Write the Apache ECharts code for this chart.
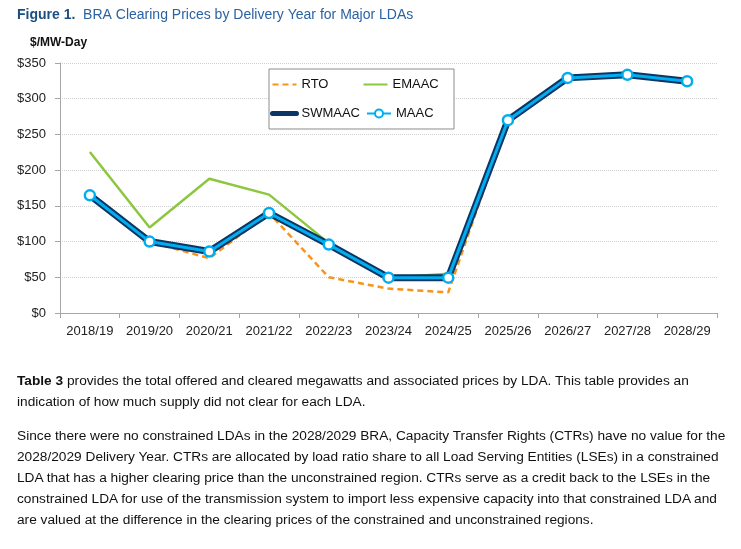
<!DOCTYPE html>
<html><head><meta charset="utf-8">
<script src="https://cdn.jsdelivr.net/npm/echarts@6/dist/echarts.min.js"></script>
<style>
html,body{margin:0;padding:0;background:#fff;}
#c{position:absolute;left:0;top:0;width:741px;height:549px;}
.p{position:absolute;left:17px;font-family:"Liberation Sans",Arial,sans-serif;font-size:13.7px;color:#111;line-height:21px;white-space:nowrap;}
</style></head>
<body>
<div id="c"></div>
<div class="p" style="top:370px;"><b>Table 3</b> provides the total offered and cleared megawatts and associated prices by LDA. This table provides an<br>indication of how much supply did not clear for each LDA.</div>
<div class="p" style="top:425px;">Since there were no constrained LDAs in the 2028/2029 BRA, Capacity Transfer Rights (CTRs) have no value for the<br>2028/2029 Delivery Year. CTRs are allocated by load ratio share to all Load Serving Entities (LSEs) in a constrained<br>LDA that has a higher clearing price than the unconstrained region. CTRs serve as a credit back to the LSEs in the<br>constrained LDA for use of the transmission system to import less expensive capacity into that constrained LDA and<br>are valued at the difference in the clearing prices of the constrained and unconstrained regions.</div>
<script>
const categories = ['2018/19','2019/20','2020/21','2021/22','2022/23','2023/24','2024/25','2025/26','2026/27','2027/28','2028/29'];
const rto    = [164.77, 100.00, 76.53, 140.00, 50.00, 34.13, 28.92, 269.92, 329.17, 333.44, 324.5];
const emaac  = [225.42, 119.77, 187.87, 165.73, 97.86, 49.49, 54.95, 269.92, 329.17, 333.44, 324.5];
const swmaac = [164.77, 100.00, 86.04, 140.00, 95.79, 49.49, 49.49, 269.92, 329.17, 333.44, 324.5];
const maac   = [164.77, 100.00, 86.04, 140.00, 95.79, 49.49, 49.49, 269.92, 329.17, 333.44, 324.5];
const seriesNames = ['RTO','EMAAC','SWMAAC','MAAC'];

const font = '"Liberation Sans", Arial, sans-serif';
const chart = echarts.init(document.getElementById('c'));
chart.setOption({
  animation:false,
  backgroundColor:'#fff',
  graphic:[
    {type:'text', left:17, top:8, style:{text:'{b|Figure 1.}  {n|BRA Clearing Prices by Delivery Year for Major LDAs}', font:'14px '+font,
      rich:{b:{fontWeight:'bold', fontSize:14, fontFamily:font, fill:'#1B4F82'}, n:{fontSize:14, fontFamily:font, fill:'#2B62A3'}}}},
    {type:'text', left:30, top:37, style:{text:'$/MW-Day', font:'bold 12px '+font, fill:'#111'}}
  ],
  grid:{left:60, right:24, top:63, bottom:236, containLabel:false},
  legend:{
    left:269, top:69, width:186, orient:'horizontal',
    padding:[4,3,4,1], itemGap:6, itemWidth:24, itemHeight:10,
    borderColor:'#8c8c8c', borderWidth:1, backgroundColor:'#fff',
    textStyle:{fontFamily:font, fontSize:13, color:'#111', width:55, lineHeight:23, height:23},
    data:[
      {name:'RTO', itemStyle:{opacity:0}},
      {name:'EMAAC', itemStyle:{opacity:0}},
      {name:'SWMAAC', itemStyle:{opacity:0}, lineStyle:{width:5}},
      {name:'MAAC'}
    ]
  },
  xAxis:{
    type:'category', data:categories, boundaryGap:true,
    axisLine:{lineStyle:{color:'#a6a6a6', width:1}},
    axisTick:{show:true, length:5, alignWithLabel:false, lineStyle:{color:'#a6a6a6'}},
    axisLabel:{fontFamily:font, fontSize:13, color:'#222', margin:12, interval:0}
  },
  yAxis:{
    type:'value', min:0, max:350, interval:50,
    axisLine:{show:true, lineStyle:{color:'#a6a6a6'}},
    axisTick:{show:true, length:5, lineStyle:{color:'#a6a6a6'}},
    axisLabel:{fontFamily:font, fontSize:13, color:'#222', margin:14, formatter:'${value}'},
    splitLine:{lineStyle:{color:'#d0d0d0', type:'dotted', width:1}}
  },
  series:[
    {name:'RTO', type:'line', data:rto, symbol:'none', z:2,
      lineStyle:{color:'#F7941D', width:2.5, type:[6,4]}, itemStyle:{color:'#F7941D'}},
    {name:'EMAAC', type:'line', data:emaac, symbol:'none', z:3,
      lineStyle:{color:'#8DC63F', width:2.5}, itemStyle:{color:'#8DC63F'}},
    {name:'SWMAAC', type:'line', data:swmaac, symbol:'none', z:4,
      lineStyle:{color:'#0B3564', width:7, cap:'round', join:'round'}, itemStyle:{color:'#0B3564'}},
    {name:'MAAC', type:'line', data:maac, symbol:'circle', symbolSize:10, showAllSymbol:true, z:5,
      lineStyle:{color:'#00AEEF', width:3}, itemStyle:{color:'#fff', borderColor:'#00AEEF', borderWidth:2.5}}
  ]
});
</script>
</body></html>
